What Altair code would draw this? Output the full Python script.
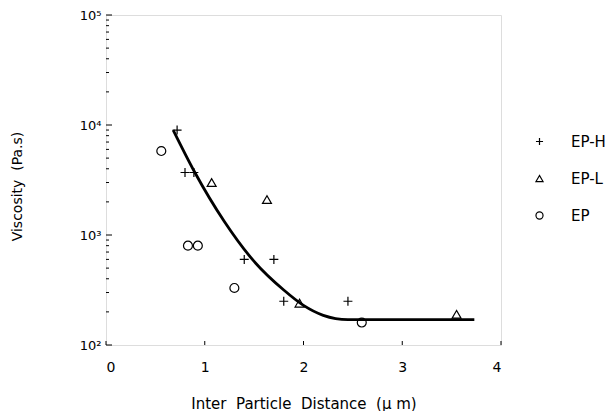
import altair as alt
import pandas as pd

# ---- data ----
series = ["EP-H", "EP-L", "EP"]
eph_x = [0.72, 0.80, 0.89, 1.40, 1.70, 1.80, 2.45]
eph_y = [9000, 3700, 3700, 600, 600, 250, 250]
epl_x = [1.07, 1.63, 1.96, 3.55]
epl_y = [3000, 2100, 240, 190]
ep_x = [0.56, 0.83, 0.93, 1.30, 2.59]
ep_y = [5800, 800, 800, 330, 160]
fit_x = [0.68, 0.90, 1.20, 1.50, 1.80, 2.00, 2.20, 2.45, 3.00, 3.73]
fit_y = [9000, 3700, 1320, 575, 316, 229, 186, 170, 170, 170]
x_ticks = [0, 1, 2, 3, 4]
y_major = [100, 1000, 10000, 100000]
y_labels = ["10²", "10³", "10⁴", "10⁵"]
y_minor = [m * d for d in (100, 1000, 10000) for m in range(2, 10)]

FONT = "DejaVu Sans"
NB = "\u00a0"
W, H = 395, 330

pts = pd.DataFrame(
    [{"x": a, "y": b, "series": "EP-H"} for a, b in zip(eph_x, eph_y)]
    + [{"x": a, "y": b, "series": "EP-L"} for a, b in zip(epl_x, epl_y)]
    + [{"x": a, "y": b, "series": "EP"} for a, b in zip(ep_x, ep_y)]
)
fit = pd.DataFrame({"x": fit_x, "y": fit_y})
xt = pd.DataFrame({"x": x_ticks})
ymaj = pd.DataFrame({"y": y_major})
ymin = pd.DataFrame({"y": y_minor})

label_expr = " : ".join(
    f"datum.value == {v} ? '{l}'" for v, l in zip(y_major[:-1], y_labels[:-1])
) + f" : '{y_labels[-1]}'"

xscale = alt.Scale(domain=[0, 4], nice=False, zero=False)
yscale = alt.Scale(type="log", domain=[100, 100000], nice=False)

x_title = f"Inter{NB}{NB}Particle{NB}{NB}Distance{NB}{NB}(μ{NB}m)"
y_title = f"Viscosity{NB}{NB}(Pa.s)"

xaxis = alt.Axis(values=x_ticks, format="d", title=x_title, ticks=False,
                 domain=False, grid=False, labelFont=FONT, labelFontSize=14,
                 labelColor="black", labelPadding=15, titleFont=FONT, titleFontSize=15,
                 titleFontWeight="normal", titleColor="black", titlePadding=22)
yaxis = alt.Axis(values=y_major, labelExpr=label_expr, title=y_title, ticks=False,
                 domain=False, grid=False, labelFont=FONT, labelFontSize=13,
                 labelColor="black", labelPadding=5, titleFont=FONT, titleFontSize=14,
                 titleFontWeight="normal", titleColor="black", titlePadding=55,
                 titleY=171)

plus_path = "M-1,0L1,0M0,-1L0,1"

points = alt.Chart(pts).mark_point(filled=False, color="black", strokeWidth=1.2,
                                   size=80, opacity=1).encode(
    x=alt.X("x:Q", scale=xscale, axis=xaxis),
    y=alt.Y("y:Q", scale=yscale, axis=yaxis),
    shape=alt.Shape("series:N",
                    scale=alt.Scale(domain=series, range=[plus_path, "triangle-up", "circle"]),
                    legend=alt.Legend(title=None, orient="none", legendX=426, legendY=119,
                                      direction="vertical", rowPadding=21, labelOffset=24,
                                      labelFont=FONT, labelFontSize=15, labelColor="black",
                                      symbolSize=50, symbolStrokeWidth=1.2,
                                      symbolStrokeColor="black", symbolFillColor="white")),
)

line = alt.Chart(fit).mark_line(color="black", strokeWidth=2.8, interpolate="monotone").encode(
    x=alt.X("x:Q", scale=xscale),
    y=alt.Y("y:Q", scale=yscale),
)

minor_ticks = alt.Chart(ymin).mark_rule(color="black", strokeWidth=1).encode(
    y=alt.Y("y:Q", scale=yscale), x=alt.value(0), x2=alt.value(3))
major_ticks = alt.Chart(ymaj).mark_rule(color="black", strokeWidth=1).encode(
    y=alt.Y("y:Q", scale=yscale), x=alt.value(0), x2=alt.value(6))
x_tick_marks = alt.Chart(xt).mark_rule(color="black", strokeWidth=1).encode(
    x=alt.X("x:Q", scale=xscale), y=alt.value(H), y2=alt.value(H - 4))

chart = alt.layer(minor_ticks, major_ticks, x_tick_marks, line, points).properties(
    width=W, height=H,
    padding={"left": 2, "top": 1, "right": 0, "bottom": 0},
).configure_view(stroke="black", strokeWidth=1).configure(background="white")

chart.save("out.html", embed_options={"renderer": "svg", "actions": False})
